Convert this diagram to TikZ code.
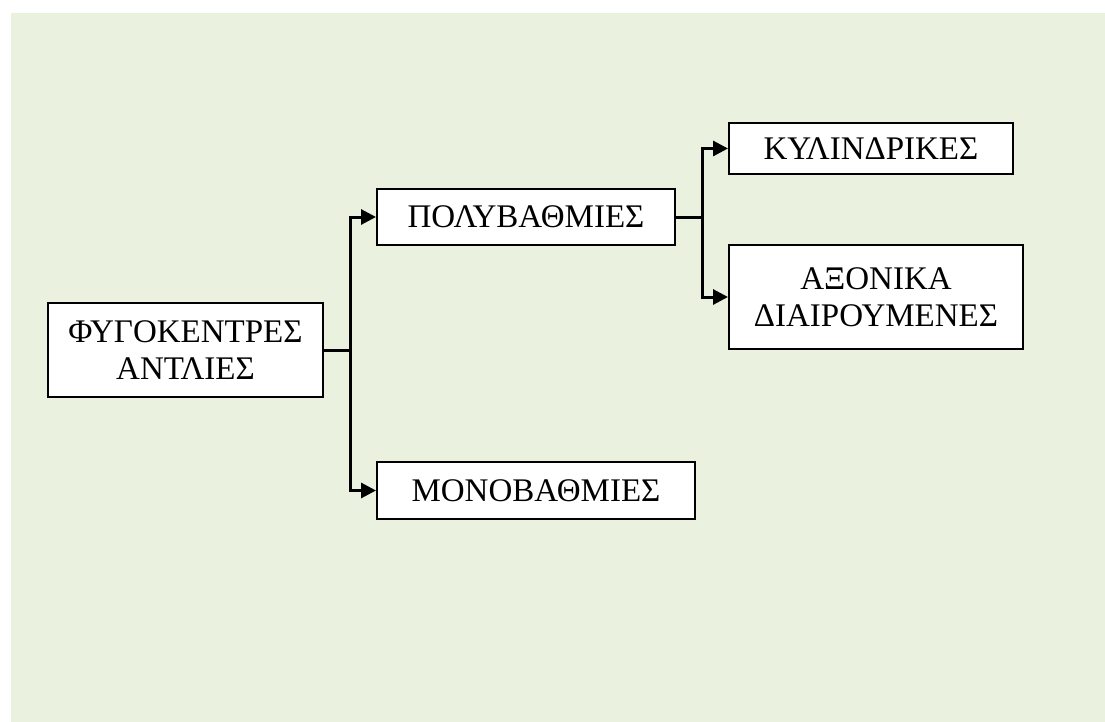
\documentclass[tikz,border=0pt]{standalone}
\usepackage{fontspec}
\setmainfont{Liberation Serif}
\usetikzlibrary{arrows.meta}
\definecolor{panel}{RGB}{234,241,222}
\begin{document}
\begin{tikzpicture}[x=1pt,y=-1pt,
  box/.style={draw=black,line width=2pt,fill=white,inner sep=0pt,
    align=center,font=\fontsize{33}{37}\selectfont},
  link/.style={line width=3pt},
  arr/.style={line width=3pt,-{Triangle[length=15pt,width=15pt]}}]
\useasboundingbox (0,0) rectangle (1105,722);
\fill[panel] (11,13) rectangle (1105,722);

\node[box,minimum width=275pt,minimum height=94pt] (root) at (185.5,350) {ΦΥΓΟΚΕΝΤΡΕΣ\\ΑΝΤΛΙΕΣ};
\node[box,minimum width=298pt,minimum height=56pt] (poly) at (526,217) {ΠΟΛΥΒΑΘΜΙΕΣ};
\node[box,minimum width=318pt,minimum height=57pt] (mono) at (536,490.5) {ΜΟΝΟΒΑΘΜΙΕΣ};
\node[box,minimum width=284pt,minimum height=51pt] (kyl) at (871,148.5) {ΚΥΛΙΝΔΡΙΚΕΣ};
\node[box,minimum width=294pt,minimum height=104pt] (axon) at (876,297) {ΑΞΟΝΙΚΑ\\ΔΙΑΙΡΟΥΜΕΝΕΣ};

\coordinate (j1) at (350,350);
\coordinate (j2) at (702,217);

\draw[link] (root.east) -- (j1);
\draw[arr] (j1) |- (poly.west);
\draw[arr] (j1) |- (mono.west);

\draw[link] (poly.east) -- (j2);
\draw[arr] (j2) |- (kyl.west);
\draw[arr] (j2) |- (axon.west);
\end{tikzpicture}
\end{document}
